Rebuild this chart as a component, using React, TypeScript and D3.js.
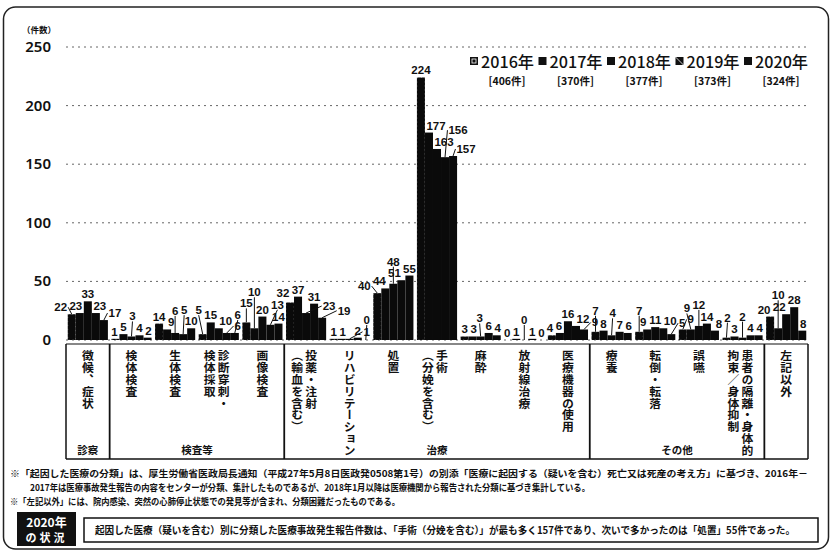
import React from "react";
import * as d3 from "d3";

const years = ["2016年", "2017年", "2018年", "2019年", "2020年"];
const yearTotals = ["[406件]", "[370件]", "[377件]", "[373件]", "[324件]"];

const categories = [
  "徴候、症状",
  "検体検査",
  "生体検査",
  "診断穿刺・|検体採取",
  "画像検査",
  "投薬・注射|（輸血を含む）",
  "リハビリテーション",
  "処置",
  "手術|（分娩を含む）",
  "麻酔",
  "放射線治療",
  "医療機器の使用",
  "療養",
  "転倒・転落",
  "誤嚥",
  "患者の隔離・身体的|拘束／身体抑制",
  "左記以外",
];

const v2016 = [22, 1, 14, 5, 15, 32, 1, 40, 224, 3, 0, 4, 7, 7, 9, 2, 20];
const v2017 = [23, 5, 9, 15, 10, 37, 1, 44, 177, 3, 1, 6, 8, 9, 9, 3, 10];
const v2018 = [33, 3, 6, 10, 20, 23, 1, 48, 163, 3, 0, 16, 4, 11, 12, 2, 22];
const v2019 = [23, 4, 5, 6, 13, 31, 2, 51, 156, 6, 1, 12, 7, 10, 14, 4, 28];
const v2020 = [17, 2, 10, 6, 14, 19, 0, 55, 157, 4, 0, 9, 6, 5, 8, 4, 8];
const seriesValues = [v2016, v2017, v2018, v2019, v2020];

const groupNames = ["診察", "検査等", "治療", "その他", ""];
const groupStarts = [0, 1, 5, 12, 16];
const groupEnds = [0, 4, 11, 15, 16];

const yTicks = [0, 50, 100, 150, 200, 250];

const footnotes = [
  "※「起因した医療の分類」は、厚生労働省医政局長通知（平成27年5月8日医政発0508第1号）の別添「医療に起因する（疑いを含む）死亡又は死産の考え方」に基づき、2016年－",
  "2017年は医療事故発生報告の内容をセンターが分類、集計したものであるが、2018年1月以降は医療機関から報告された分類に基づき集計している。",
  "※「左記以外」には、院内感染、突然の心肺停止状態での発見等が含まれ、分類困難だったものである。",
];
const summaryText =
  "起因した医療（疑いを含む）別に分類した医療事故発生報告件数は、「手術（分娩を含む）」が最も多く157件であり、次いで多かったのは「処置」55件であった。";

const W = 833;
const H = 554;
const JP = "'Noto Sans CJK JP', 'Noto Sans', sans-serif";
const NUM = "'Liberation Sans', Arial, sans-serif";

type Box = { x0: number; x1: number; y0: number; y1: number };
const hit = (a: Box, b: Box) => a.x0 < b.x1 && a.x1 > b.x0 && a.y0 < b.y1 && a.y1 > b.y0;

export default function App() {
  const x = d3
    .scaleBand<number>()
    .domain(d3.range(categories.length))
    .range([66, 808])
    .paddingInner(0.08)
    .paddingOuter(0.04);
  const step = x.step();
  const xs = d3.scaleBand<number>().domain(d3.range(years.length)).range([0, x.bandwidth()]);
  const y = d3.scaleLinear().domain([0, 250]).range([340, 47]);
  const boundary = (i: number) => 66 + i * step;

  // bar boxes (obstacles)
  const bars: Box[] = [];
  seriesValues.forEach((vals, si) =>
    vals.forEach((v, ci) => {
      const bx = (x(ci) as number) + (xs(si) as number);
      bars.push({ x0: bx, x1: bx + xs.bandwidth(), y0: y(v), y1: 340 });
    })
  );

  // label placement (greedy, avoiding bars and other labels)
  type Lab = { cx: number; barTop: number; v: number; lx: number; by: number; w: number };
  const labels: Lab[] = [];
  const placedBoxes: Box[] = [];
  const FS = 11.5;
  const digitW = FS * 0.556;
  const labBox = (lx: number, by: number, w: number): Box => ({
    x0: lx - w / 2 - 1,
    x1: lx + w / 2 + 1,
    y0: by - FS * 0.78,
    y1: by + 2,
  });
  categories.forEach((_, ci) => {
    const ls: Lab[] = seriesValues.map((vals, si) => {
      const v = vals[ci];
      const cx = (x(ci) as number) + (xs(si) as number) + xs.bandwidth() / 2;
      return { cx, barTop: y(v), v, lx: cx, by: y(v) - 3, w: String(v).length * digitW };
    });
    const order = [...ls].sort((a, b) => a.barTop - b.barTop);
    order.forEach((l) => {
      let best: { dx: number; dy: number; cost: number } | null = null;
      for (let dy = 0; dy <= 100; dy += 1) {
        for (let dx = -14; dx <= 26; dx += 1) {
          const cost = dy * 1.0 + Math.abs(dx) * (dx > 0 ? 0.9 : 1.1);
          if (best && cost >= best.cost) continue;
          const bx = l.cx + dx;
          const bb = l.barTop - 3 - dy;
          const box = labBox(bx, bb, l.w);
          if (bars.some((b) => hit(box, b))) continue;
          if (placedBoxes.some((b) => hit(box, b))) continue;
          best = { dx, dy, cost };
        }
      }
      const dx = best ? best.dx : 0;
      const dy = best ? best.dy : 0;
      l.lx = l.cx + dx;
      l.by = l.barTop - 3 - dy;
      placedBoxes.push(labBox(l.lx, l.by, l.w));
    });
    labels.push(...ls);
  });

  return (
    <svg
      width={W}
      height={H}
      viewBox={`0 0 ${W} ${H}`}
      style={{ position: "absolute", left: 0, top: 0, background: "#fff" }}
    >
      {/* outer rounded frame */}
      <rect x={3.5} y={7} width={825} height={542} rx={12} fill="none" stroke="#222" strokeWidth={1.5} />

      {/* axis unit */}
      <text x={22} y={33} fontFamily={JP} fontWeight={700} fontSize={8.5} fill="#111">
        （件数）
      </text>

      {/* grid + y ticks */}
      {yTicks.map((t) => (
        <g key={t}>
          <line
            x1={66}
            x2={808}
            y1={y(t)}
            y2={y(t)}
            stroke="#666"
            strokeWidth={1}
            strokeDasharray="2,4"
          />
          <text
            x={51}
            y={y(t) + 5}
            textAnchor="end"
            fontFamily="'Noto Sans', sans-serif"
            fontWeight={600}
            fontSize={15}
            fill="#111"
          >
            {t}
          </text>
        </g>
      ))}

      {/* bars */}
      {seriesValues.map((vals, si) =>
        vals.map((v, ci) => (
          <rect
            key={`${si}-${ci}`}
            x={(x(ci) as number) + (xs(si) as number)}
            y={y(v)}
            width={xs.bandwidth()}
            height={340 - y(v)}
            fill="#0a0a0a"
            stroke={si === 0 ? "#fff" : "none"}
            strokeWidth={si === 0 ? 0.4 : 0}
            strokeDasharray={si === 0 ? "1,3" : undefined}
          />
        ))
      )}

      {/* value labels */}
      {labels.map((l, i) => {
        const dxl = l.lx - l.cx;
        const gap = l.barTop - l.by;
        const side = Math.abs(dxl) > l.w / 2 + 2;
        const showLeader = gap > 7 || side;
        const ex = side ? l.lx - Math.sign(dxl) * (l.w / 2 + 1) : l.lx;
        const ey = side ? l.by - 4 : l.by + 1;
        return (
          <g key={i}>
            {showLeader && (
              <line x1={l.cx} x2={ex} y1={l.barTop} y2={ey} stroke="#111" strokeWidth={1} />
            )}
            <text
              x={l.lx}
              y={l.by}
              textAnchor="middle"
              fontFamily={NUM}
              fontWeight={700}
              fontSize={FS}
              fill="#111"
            >
              {l.v}
            </text>
          </g>
        );
      })}

      {/* category box */}
      <line x1={66} x2={808} y1={344} y2={344} stroke="#111" strokeWidth={1.2} />
      <line x1={66} x2={808} y1={459} y2={459} stroke="#111" strokeWidth={1.5} />
      <line x1={66} x2={66} y1={344} y2={459} stroke="#111" strokeWidth={1.5} />
      <line x1={808} x2={808} y1={344} y2={459} stroke="#111" strokeWidth={1.5} />
      {groupEnds.slice(0, -1).map((e, i) => (
        <line
          key={i}
          x1={boundary(e + 1)}
          x2={boundary(e + 1)}
          y1={344}
          y2={459}
          stroke="#111"
          strokeWidth={1.8}
        />
      ))}

      {/* category labels (vertical) */}
      {categories.map((c, ci) => {
        const cols = c.split("|");
        const cx = (x(ci) as number) + x.bandwidth() / 2;
        return cols.map((col, k) => {
          const off = cols.length === 1 ? 0 : k === 0 ? 5 : -9;
          return (
            <text
              key={`${ci}-${k}`}
              x={cx + off}
              y={350}
              fontFamily={JP}
              fontWeight={700}
              fontSize={11.8}
              fill="#111"
              style={{ writingMode: "vertical-rl" as any }}
            >
              {col}
            </text>
          );
        });
      })}

      {/* group labels */}
      {groupNames.map((g, i) =>
        g ? (
          <text
            key={g}
            x={(boundary(groupStarts[i]) + boundary(groupEnds[i] + 1)) / 2}
            y={454}
            textAnchor="middle"
            fontFamily={JP}
            fontWeight={700}
            fontSize={10.5}
            fill="#111"
          >
            {g}
          </text>
        ) : null
      )}

      {/* legend */}
      {years.map((yr, i) => {
        const lx = 470 + i * 68.5;
        return (
          <g key={yr}>
            <rect x={lx} y={57} width={8} height={8} fill="#111" />
            {i === 0 && <rect x={lx + 2} y={59} width={4} height={4} fill="none" stroke="#fff" strokeWidth={0.8} />}
            {i === 3 && <line x1={lx} y1={57} x2={lx + 8} y2={65} stroke="#fff" strokeWidth={0.8} />}
            <text
              x={lx + 11}
              y={68}
              fontFamily={JP}
              fontWeight={500}
              fontSize={16}
              fill="#111"
              textLength={53}
              lengthAdjust="spacingAndGlyphs"
            >
              {yr}
            </text>
            <text
              x={lx + 37}
              y={85}
              textAnchor="middle"
              fontFamily={JP}
              fontWeight={700}
              fontSize={10.5}
              fill="#111"
            >
              {yearTotals[i]}
            </text>
          </g>
        );
      })}

      {/* footnotes */}
      <text x={10} y={477} fontFamily={JP} fontWeight={700} fontSize={9.5} fill="#111" textLength={798} lengthAdjust="spacingAndGlyphs">
        {footnotes[0]}
      </text>
      <text x={30} y={491} fontFamily={JP} fontWeight={700} fontSize={9.5} fill="#111" textLength={560} lengthAdjust="spacingAndGlyphs">
        {footnotes[1]}
      </text>
      <text x={10} y={505} fontFamily={JP} fontWeight={700} fontSize={9.5} fill="#111" textLength={390} lengthAdjust="spacingAndGlyphs">
        {footnotes[2]}
      </text>

      {/* 2020 status box */}
      <rect x={17} y={512} width={59} height={34} fill="#111" />
      <text x={46.5} y={527} textAnchor="middle" fontFamily={JP} fontWeight={700} fontSize={12} fill="#fff">
        2020年
      </text>
      <text x={46.5} y={542} textAnchor="middle" fontFamily={JP} fontWeight={700} fontSize={11} fill="#fff" letterSpacing={3}>
        の状況
      </text>
      <rect x={84} y={518} width={734} height={24} fill="none" stroke="#111" strokeWidth={1.5} />
      <text x={95} y={534} fontFamily={JP} fontWeight={700} fontSize={10} fill="#111" textLength={700} lengthAdjust="spacingAndGlyphs">
        {summaryText}
      </text>
    </svg>
  );
}
